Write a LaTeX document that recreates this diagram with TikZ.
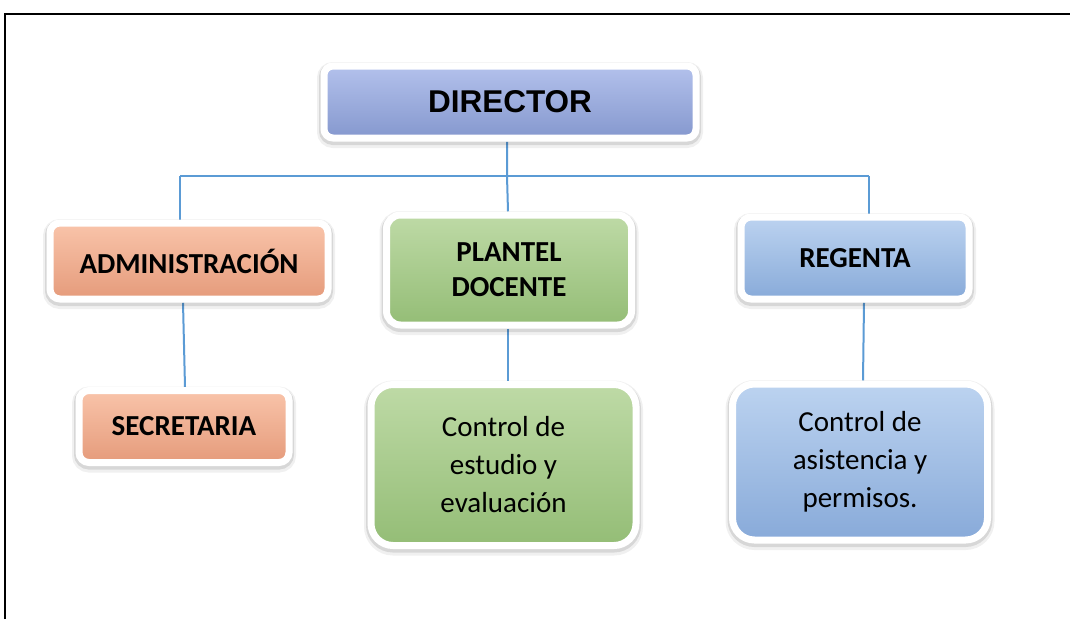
\documentclass[tikz,border=0pt]{standalone}
\usepackage{fontspec}
\setmainfont{Carlito}
\newfontfamily\arialfont{Liberation Sans}
\usetikzlibrary{shadows,backgrounds}
\definecolor{conncol}{HTML}{5B9BD5}
\definecolor{dirtop}{HTML}{B3C1EC}
\definecolor{dirbot}{HTML}{8598CE}
\definecolor{ortop}{HTML}{F9C4AA}
\definecolor{orbot}{HTML}{E59B7B}
\definecolor{grtop}{HTML}{BEDAA6}
\definecolor{grbot}{HTML}{94BD76}
\definecolor{bltop}{HTML}{BCD3F0}
\definecolor{blbot}{HTML}{88AAD9}
\begin{document}
\begin{tikzpicture}[x=1pt,y=-1pt,
  box/.style={draw=white, line width=7pt, inner sep=0pt, align=center,
    general shadow={draw=black, fill=none, line width=14pt, opacity=0.06, shadow yshift=-3pt},
    general shadow={draw=black, fill=none, line width=10pt, opacity=0.10, shadow yshift=-2pt}},
  dirfill/.style={top color=dirtop, bottom color=dirbot},
  orfill/.style={top color=ortop, bottom color=orbot},
  grfill/.style={top color=grtop, bottom color=grbot},
  blfill/.style={top color=bltop, bottom color=blbot},
  headfont/.style={font=\bfseries\fontsize{29}{35}\selectfont},
  bodyfont/.style={font=\fontsize{29}{38}\selectfont},
  conn/.style={draw=conncol, line width=2pt}]
\useasboundingbox (0,0) rectangle (1070,619);

\node[box, dirfill, rounded corners=9pt, minimum width=372pt, minimum height=72pt,
  font=\arialfont\bfseries\fontsize{31.5}{36}\selectfont] (dir) at (510,102) {DIRECTOR};
\node[box, orfill, rounded corners=10pt, minimum width=278pt, minimum height=76pt, headfont] (adm) at (189,261) {ADMINISTRACIÓN};
\node[box, orfill, rounded corners=10pt, minimum width=210pt, minimum height=72pt, headfont] (sec) at (184,426.5) {SECRETARIA};
\node[box, grfill, rounded corners=14pt, minimum width=245pt, minimum height=110pt, headfont] (pla) at (509,270) {PLANTEL\\DOCENTE};
\node[box, grfill, rounded corners=22pt, minimum width=265pt, minimum height=161pt, bodyfont] (c1) at (503.5,465) {Control de\\estudio y\\evaluación};
\node[box, blfill, rounded corners=10pt, minimum width=228pt, minimum height=82pt, headfont] (reg) at (855,258) {REGENTA};
\node[box, blfill, rounded corners=22pt, minimum width=255pt, minimum height=156pt, bodyfont] (c2) at (860,462) {Control de\\asistencia y\\permisos.};

\coordinate (hl) at (180,176);
\coordinate (hr) at (869,176);

\begin{scope}[on background layer]
  \fill[white] (0,0) rectangle (1070,619);
  \draw[conn] (hl) -- (hr);
  \draw[conn] ([xshift=-3pt]dir.south) -- ([xshift=-3pt]dir.south |- hl) -- ([xshift=-1pt]pla.north);
  \draw[conn] (hl) -- (hl |- adm.north);
  \draw[conn] (hr) -- (hr |- reg.north);
  \draw[conn] ([xshift=-6pt]adm.south) -- ([xshift=1pt]sec.north);
  \draw[conn] ([xshift=-1pt]pla.south) -- ([xshift=4.5pt]c1.north);
  \draw[conn] ([xshift=9pt]reg.south) -- ([xshift=3pt]c2.north);
\end{scope}

\draw[line width=2pt] (5,619) -- (5,14) -- (1070,14);
\end{tikzpicture}
\end{document}
